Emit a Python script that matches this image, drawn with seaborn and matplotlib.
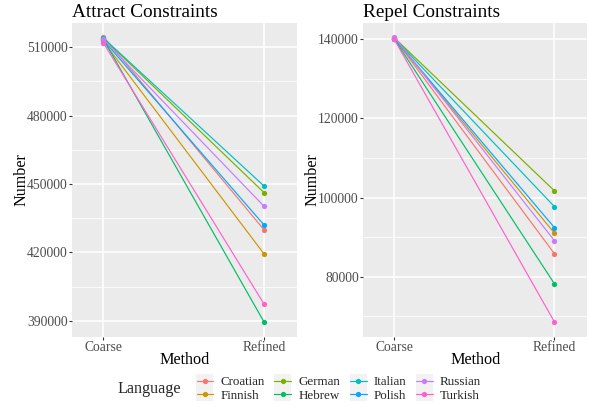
import matplotlib
matplotlib.use("Agg")
import matplotlib.pyplot as plt
import seaborn as sns
import pandas as pd
import numpy as np
from matplotlib.lines import Line2D
from matplotlib.patches import Rectangle
from matplotlib.ticker import FixedLocator

languages = ["Croatian", "Finnish", "German", "Hebrew", "Italian", "Polish", "Russian", "Turkish"]
methods = ["Coarse", "Refined"]
attract_coarse = [514700, 512600, 514000, 513600, 514100, 513200, 513500, 512000]
attract_refined = [429900, 419300, 446200, 389400, 449100, 432000, 440200, 397300]
repel_coarse = [140300, 140200, 140400, 140100, 140300, 140200, 140600, 140000]
repel_refined = [85800, 91000, 101700, 78200, 97700, 92400, 89100, 68550]
colors = ["#F8766D", "#CD9600", "#7CAE00", "#00BE67", "#00BFC4", "#00A9FF", "#C77CFF", "#FF61CC"]

def make_df(coarse, refined):
    rows = []
    for lang, c, r in zip(languages, coarse, refined):
        rows.append({"Method": methods[0], "Number": c, "Language": lang})
        rows.append({"Method": methods[1], "Number": r, "Language": lang})
    return pd.DataFrame(rows)

df_a = make_df(attract_coarse, attract_refined)
df_r = make_df(repel_coarse, repel_refined)

sns.set_theme(style="darkgrid")
plt.rcParams["font.family"] = ["Liberation Serif", "DejaVu Serif"]

W, H = 589, 407
fig = plt.figure(figsize=(W / 100, H / 100), dpi=100)
fig.patch.set_facecolor("white")

def px_axes(x0, y0, x1, y1):
    return fig.add_axes([x0 / W, 1 - y1 / H, (x1 - x0) / W, (y1 - y0) / H])

ax1 = px_axes(72.3, 22.7, 296.7, 336.7)
ax2 = px_axes(363.3, 22.7, 587.0, 336.7)

palette = dict(zip(languages, colors))

def style(ax, df, title, ylim, major, minor):
    sns.lineplot(data=df, x="Method", y="Number", hue="Language", hue_order=languages,
                 palette=palette, marker="o", markersize=3.8, markeredgewidth=0,
                 linewidth=0.85, ax=ax, legend=False, sort=False)
    ax.set_facecolor("#EBEBEB")
    ax.set_xlim(-0.193, 1.203)
    ax.set_ylim(*ylim)
    ax.yaxis.set_major_locator(FixedLocator(major))
    ax.yaxis.set_minor_locator(FixedLocator(minor))
    ax.set_yticklabels([str(v) for v in major])
    ax.set_xticks([0, 1])
    ax.set_xticklabels(methods)
    ax.grid(True, which="major", color="white", linewidth=1.1)
    ax.grid(True, which="minor", axis="y", color="white", linewidth=0.55)
    ax.set_axisbelow(True)
    for s in ax.spines.values():
        s.set_visible(False)
    ax.tick_params(axis="both", which="major", length=2.2, width=0.8, color="#333333",
                   labelsize=9.8, labelcolor="#4D4D4D", pad=1.0, left=True, bottom=True)
    ax.tick_params(axis="both", which="minor", length=0)
    ax.set_xlabel("Method", fontsize=11.6, color="black", labelpad=-1.5)
    ax.set_ylabel("Number", fontsize=11.6, color="black", labelpad=-1.5)
    ax.set_title(title, fontsize=13.9, loc="left", pad=4, color="black")

style(ax1, df_a, "Attract Constraints", (382977, 520800),
      [390000, 420000, 450000, 480000, 510000], [405000, 435000, 465000, 495000])
style(ax2, df_r, "Repel Constraints", (64836, 144195),
      [80000, 100000, 120000, 140000], [70000, 90000, 110000, 130000])

handles = [Line2D([0], [0], color=c, marker="o", markersize=3.8, markeredgewidth=0, linewidth=0.85)
           for c in colors]
leg = fig.legend(handles, languages, ncol=4, loc="center left",
                 bbox_to_anchor=(196.5 / W, 1 - 388.8 / H), frameon=False,
                 fontsize=9.4, handlelength=1.3, handletextpad=0.55, columnspacing=0.72,
                 labelspacing=0.1, borderaxespad=0, borderpad=0)
fig.text(117 / W, 1 - 388.6 / H, "Language", fontsize=11.6, va="center", ha="left")

# light grey key backgrounds as in the ggplot legend
fig.canvas.draw()
renderer = fig.canvas.get_renderer()
for h in leg.legend_handles:
    bb = h.get_window_extent(renderer)
    cx = (bb.x0 + bb.x1) / 2
    cy = (bb.y0 + bb.y1) / 2
    kw, kh = 17.0, 13.3
    rect = Rectangle(((cx - kw / 2) / W, (cy - kh / 2) / H), kw / W, kh / H,
                     transform=fig.transFigure, facecolor="#F2F2F2", edgecolor="none", zorder=0)
    fig.patches.append(rect)

fig.savefig("out.png", dpi=100, facecolor="white")
